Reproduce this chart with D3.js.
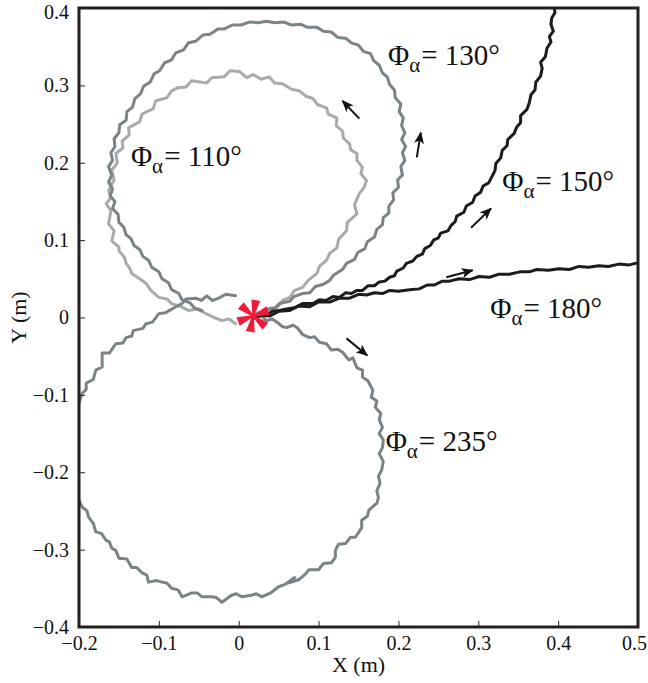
<!DOCTYPE html>
<html>
<head>
<meta charset="utf-8">
<script src="https://cdn.jsdelivr.net/npm/d3@7"></script>
<style>
  body { margin: 0; background: #fff; }
  svg text { font-family: "Liberation Serif", "Times New Roman", Times, "DejaVu Serif", serif; fill: #111; }
</style>
</head>
<body>
<svg id="chart"></svg>
<script>
// axis ticks
var xTicks = [-0.2, -0.1, 0, 0.1, 0.2, 0.3, 0.4, 0.5]
var yTicks = [-0.4, -0.3, -0.2, -0.1, 0, 0.1, 0.2, 0.3, 0.4]

// trajectories (x, y in m)
var path110 = [[0.014,0.000],[0.022,0.006],[0.030,0.005],[0.038,0.012],[0.048,0.013],[0.055,0.022],[0.064,0.026],[0.070,0.035],[0.080,0.039],[0.087,0.048],[0.098,0.057],[0.101,0.066],[0.110,0.074],[0.114,0.083],[0.123,0.090],[0.125,0.101],[0.135,0.112],[0.136,0.123],[0.148,0.134],[0.145,0.146],[0.151,0.160],[0.157,0.168],[0.160,0.177],[0.153,0.186],[0.155,0.194],[0.148,0.203],[0.148,0.212],[0.140,0.217],[0.139,0.224],[0.131,0.232],[0.130,0.241],[0.122,0.248],[0.123,0.258],[0.112,0.263],[0.110,0.271],[0.099,0.275],[0.093,0.283],[0.084,0.286],[0.076,0.293],[0.066,0.295],[0.055,0.302],[0.045,0.303],[0.038,0.311],[0.028,0.308],[0.018,0.314],[0.010,0.310],[0.001,0.318],[-0.011,0.319],[-0.018,0.311],[-0.034,0.310],[-0.040,0.303],[-0.059,0.306],[-0.066,0.298],[-0.076,0.297],[-0.084,0.293],[-0.090,0.284],[-0.104,0.280],[-0.107,0.270],[-0.121,0.263],[-0.124,0.253],[-0.138,0.245],[-0.137,0.236],[-0.146,0.228],[-0.145,0.219],[-0.154,0.212],[-0.152,0.200],[-0.159,0.190],[-0.156,0.178],[-0.163,0.164],[-0.160,0.155],[-0.166,0.147],[-0.160,0.138],[-0.163,0.121],[-0.156,0.112],[-0.159,0.099],[-0.150,0.091],[-0.150,0.086],[-0.143,0.078],[-0.141,0.070],[-0.136,0.063],[-0.134,0.057],[-0.124,0.050],[-0.116,0.044],[-0.110,0.035],[-0.100,0.026],[-0.090,0.024],[-0.084,0.018],[-0.072,0.014],[-0.063,0.009],[-0.052,0.011],[-0.041,0.005],[-0.031,0.000],[-0.021,-0.004],[-0.012,-0.002],[-0.004,-0.008]]

var path130 = [[0.016,0.001],[0.029,0.005],[0.034,0.010],[0.045,0.012],[0.051,0.018],[0.064,0.021],[0.069,0.027],[0.080,0.031],[0.089,0.032],[0.096,0.040],[0.106,0.043],[0.114,0.048],[0.119,0.055],[0.130,0.062],[0.135,0.070],[0.145,0.075],[0.149,0.084],[0.158,0.089],[0.161,0.098],[0.170,0.104],[0.173,0.114],[0.180,0.120],[0.181,0.129],[0.188,0.135],[0.188,0.144],[0.194,0.152],[0.193,0.161],[0.200,0.168],[0.199,0.178],[0.205,0.184],[0.203,0.195],[0.208,0.203],[0.205,0.213],[0.209,0.221],[0.204,0.230],[0.208,0.239],[0.204,0.248],[0.206,0.258],[0.201,0.266],[0.203,0.276],[0.196,0.284],[0.195,0.294],[0.189,0.301],[0.186,0.311],[0.180,0.316],[0.176,0.326],[0.169,0.332],[0.165,0.341],[0.156,0.344],[0.150,0.352],[0.141,0.355],[0.134,0.361],[0.124,0.362],[0.116,0.369],[0.106,0.370],[0.098,0.375],[0.086,0.375],[0.078,0.379],[0.066,0.378],[0.056,0.382],[0.045,0.381],[0.035,0.383],[0.024,0.381],[0.014,0.382],[0.003,0.378],[-0.008,0.378],[-0.018,0.373],[-0.026,0.373],[-0.036,0.366],[-0.045,0.365],[-0.054,0.357],[-0.063,0.355],[-0.069,0.346],[-0.079,0.342],[-0.084,0.333],[-0.093,0.329],[-0.099,0.319],[-0.106,0.315],[-0.111,0.304],[-0.119,0.299],[-0.123,0.289],[-0.130,0.283],[-0.133,0.272],[-0.140,0.266],[-0.141,0.255],[-0.149,0.249],[-0.150,0.239],[-0.156,0.231],[-0.155,0.221],[-0.160,0.213],[-0.158,0.203],[-0.163,0.195],[-0.159,0.184],[-0.163,0.175],[-0.158,0.166],[-0.161,0.157],[-0.155,0.150],[-0.158,0.141],[-0.151,0.133],[-0.150,0.123],[-0.144,0.117],[-0.141,0.107],[-0.135,0.102],[-0.131,0.093],[-0.124,0.088],[-0.120,0.079],[-0.113,0.074],[-0.109,0.065],[-0.100,0.059],[-0.096,0.050],[-0.088,0.045],[-0.084,0.036],[-0.075,0.031],[-0.071,0.023],[-0.061,0.019],[-0.055,0.012],[-0.046,0.009]]

var path150 = [[0.018,0.000],[0.026,0.004],[0.034,0.003],[0.042,0.008],[0.051,0.009],[0.060,0.011],[0.071,0.013],[0.080,0.018],[0.093,0.018],[0.101,0.023],[0.109,0.022],[0.118,0.027],[0.126,0.026],[0.134,0.032],[0.141,0.031],[0.148,0.035],[0.155,0.035],[0.162,0.041],[0.170,0.041],[0.176,0.046],[0.183,0.047],[0.189,0.052],[0.195,0.054],[0.198,0.060],[0.206,0.064],[0.210,0.070],[0.218,0.073],[0.223,0.079],[0.230,0.082],[0.233,0.089],[0.240,0.093],[0.244,0.100],[0.250,0.103],[0.253,0.109],[0.262,0.112],[0.266,0.119],[0.271,0.124],[0.273,0.131],[0.282,0.136],[0.285,0.144],[0.293,0.149],[0.296,0.157],[0.303,0.162],[0.306,0.170],[0.313,0.174],[0.318,0.184],[0.321,0.190],[0.322,0.199],[0.328,0.206],[0.330,0.216],[0.336,0.222],[0.337,0.230],[0.345,0.238],[0.348,0.246],[0.353,0.252],[0.353,0.261],[0.361,0.269],[0.364,0.278],[0.366,0.288],[0.371,0.294],[0.372,0.304],[0.378,0.312],[0.380,0.322],[0.378,0.330],[0.384,0.337],[0.386,0.348],[0.391,0.356],[0.389,0.363],[0.394,0.370],[0.391,0.379],[0.392,0.387],[0.396,0.394],[0.395,0.402],[0.397,0.410]]

var path180 = [[0.018,-0.001],[0.028,0.003],[0.039,0.002],[0.050,0.008],[0.064,0.009],[0.075,0.015],[0.089,0.014],[0.100,0.020],[0.114,0.020],[0.126,0.025],[0.139,0.025],[0.150,0.030],[0.160,0.029],[0.170,0.032],[0.180,0.031],[0.189,0.035],[0.200,0.034],[0.214,0.036],[0.226,0.037],[0.236,0.042],[0.245,0.042],[0.255,0.047],[0.264,0.047],[0.276,0.050],[0.289,0.049],[0.301,0.053],[0.314,0.052],[0.326,0.056],[0.339,0.056],[0.352,0.059],[0.364,0.059],[0.373,0.062],[0.388,0.061],[0.401,0.063],[0.414,0.062],[0.426,0.066],[0.438,0.065],[0.451,0.067],[0.463,0.066],[0.476,0.069],[0.489,0.068],[0.501,0.071]]

var path235 = [[0.020,-0.001],[0.028,0.002],[0.035,-0.004],[0.042,-0.002],[0.048,-0.006],[0.055,-0.012],[0.060,-0.013],[0.068,-0.010],[0.073,-0.013],[0.080,-0.022],[0.089,-0.026],[0.095,-0.025],[0.101,-0.032],[0.110,-0.034],[0.116,-0.042],[0.124,-0.041],[0.130,-0.045],[0.138,-0.055],[0.143,-0.052],[0.146,-0.060],[0.148,-0.065],[0.155,-0.068],[0.155,-0.077],[0.162,-0.082],[0.168,-0.094],[0.166,-0.103],[0.173,-0.108],[0.171,-0.116],[0.178,-0.124],[0.176,-0.132],[0.180,-0.142],[0.176,-0.150],[0.181,-0.158],[0.180,-0.168],[0.176,-0.176],[0.181,-0.186],[0.179,-0.197],[0.175,-0.205],[0.177,-0.214],[0.173,-0.224],[0.175,-0.233],[0.173,-0.240],[0.163,-0.249],[0.161,-0.257],[0.154,-0.262],[0.154,-0.272],[0.146,-0.284],[0.140,-0.284],[0.134,-0.292],[0.125,-0.293],[0.121,-0.301],[0.121,-0.310],[0.116,-0.317],[0.106,-0.318],[0.100,-0.326],[0.088,-0.326],[0.082,-0.333],[0.075,-0.339],[0.063,-0.343],[0.070,-0.336],[0.058,-0.345],[0.050,-0.348],[0.040,-0.356],[0.029,-0.361],[0.022,-0.357],[0.016,-0.359],[0.004,-0.361],[-0.003,-0.357],[-0.009,-0.359],[-0.021,-0.368],[-0.028,-0.362],[-0.034,-0.361],[-0.046,-0.361],[-0.052,-0.356],[-0.059,-0.356],[-0.066,-0.359],[-0.071,-0.361],[-0.076,-0.352],[-0.084,-0.350],[-0.090,-0.343],[-0.096,-0.342],[-0.103,-0.340],[-0.113,-0.342],[-0.115,-0.333],[-0.121,-0.330],[-0.128,-0.323],[-0.134,-0.323],[-0.140,-0.312],[-0.150,-0.311],[-0.154,-0.301],[-0.159,-0.298],[-0.162,-0.290],[-0.166,-0.288],[-0.172,-0.279],[-0.179,-0.277],[-0.182,-0.266],[-0.188,-0.258],[-0.190,-0.250],[-0.196,-0.245],[-0.200,-0.236],[-0.209,-0.197],[-0.214,-0.159],[-0.211,-0.133],[-0.200,-0.111],[-0.198,-0.104],[-0.196,-0.098],[-0.191,-0.093],[-0.191,-0.085],[-0.182,-0.080],[-0.179,-0.068],[-0.171,-0.064],[-0.171,-0.046],[-0.162,-0.046],[-0.154,-0.034],[-0.145,-0.033],[-0.141,-0.026],[-0.134,-0.024],[-0.132,-0.017],[-0.120,-0.014],[-0.116,-0.008],[-0.108,-0.006],[-0.100,0.005],[-0.092,0.006],[-0.082,0.012],[-0.071,0.018],[-0.066,0.024],[-0.054,0.025],[-0.047,0.022],[-0.040,0.028],[-0.033,0.022],[-0.025,0.025],[-0.016,0.030],[-0.004,0.028]]

var startPoint = [0.018, 0.002]

// direction arrows: from -> to
var arrowFrom = [[0.223,0.207],[0.151,0.257],[0.291,0.116],[0.260,0.052],[0.135,-0.027]]
var arrowTo   = [[0.228,0.239],[0.130,0.280],[0.316,0.141],[0.293,0.061],[0.161,-0.049]]

// labels: angle and anchor (x, y of baseline start)
var labelAngles = ["130", "110", "150", "180", "235"]
var labelPos = [[0.187,0.326],[-0.135,0.196],[0.330,0.164],[0.315,-0.001],[0.184,-0.172]]

var dimensions = {
  width: 648,
  height: 683,
  margin: { top: 8, bottom: 56, right: 10, left: 79 }
}

var serif = '"Liberation Serif", "Times New Roman", Times, "DejaVu Serif", serif'

var svg = d3.select("#chart")
  .attr("width", dimensions.width)
  .attr("height", dimensions.height)

var xScale = d3.scaleLinear()
  .domain([-0.2, 0.5])
  .range([dimensions.margin.left, dimensions.width - dimensions.margin.right])

var yScale = d3.scaleLinear()
  .domain([-0.4, 0.4])
  .range([dimensions.height - dimensions.margin.bottom, dimensions.margin.top])

var fmt = d => d === 0 ? "0" : d3.format(".1f")(d).replace("-", "\u2212")

svg.append("clipPath").attr("id", "plotclip")
  .append("rect")
  .attr("x", xScale(-0.2)).attr("y", yScale(0.4))
  .attr("width", xScale(0.5) - xScale(-0.2))
  .attr("height", yScale(-0.4) - yScale(0.4))

var lineGen = d3.line()
  .x(d => xScale(d[0]))
  .y(d => yScale(d[1]))

var series = [
  { data: path110, color: "#a8aaac" },
  { data: path130, color: "#7b8386" },
  { data: path235, color: "#7b8386" },
  { data: path150, color: "#1c1c1c" },
  { data: path180, color: "#1c1c1c" }
]

var plot = svg.append("g").attr("clip-path", "url(#plotclip)")

plot.selectAll("path.traj")
  .data(series)
  .enter()
  .append("path")
  .attr("class", "traj")
  .attr("d", d => lineGen(d.data))
  .attr("fill", "none")
  .attr("stroke", d => d.color)
  .attr("stroke-width", 3)
  .attr("stroke-linejoin", "round")
  .attr("stroke-linecap", "round")

// start marker: red asterisk made of wedges
var star = svg.append("g")
  .attr("transform", `translate(${xScale(startPoint[0])},${yScale(startPoint[1])})`)
d3.range(6).forEach(function (i) {
  var a = (-80 + i * 60) * Math.PI / 180
  var L = 16, w = 4.5
  var px = Math.cos(a), py = Math.sin(a)
  var nx = -py, ny = px
  star.append("path")
    .attr("d", `M${nx * 0.8},${ny * 0.8} L${px * L + nx * w},${py * L + ny * w} L${px * L - nx * w},${py * L - ny * w} L${-nx * 0.8},${-ny * 0.8}Z`)
    .attr("fill", "#ee1b3b")
})

// arrows
var defs = svg.append("defs")
defs.append("marker")
  .attr("id", "head")
  .attr("markerUnits", "userSpaceOnUse")
  .attr("viewBox", "0 0 12 10")
  .attr("refX", 11).attr("refY", 5)
  .attr("markerWidth", 12).attr("markerHeight", 10)
  .attr("orient", "auto")
  .append("path")
  .attr("d", "M0,0 L12,5 L0,10 L3,5 Z")
  .attr("fill", "#111")

svg.append("g")
  .selectAll("line")
  .data(d3.range(arrowFrom.length))
  .enter()
  .append("line")
  .attr("x1", i => xScale(arrowFrom[i][0]))
  .attr("y1", i => yScale(arrowFrom[i][1]))
  .attr("x2", i => xScale(arrowTo[i][0]))
  .attr("y2", i => yScale(arrowTo[i][1]))
  .attr("stroke", "#111")
  .attr("stroke-width", 2)
  .attr("marker-end", "url(#head)")

// labels
var lab = svg.append("g")
  .selectAll("text")
  .data(d3.range(labelAngles.length))
  .enter()
  .append("text")
  .attr("x", i => xScale(labelPos[i][0]))
  .attr("y", i => yScale(labelPos[i][1]))
  .style("font-family", serif)
  .style("font-size", "29px")
lab.append("tspan").text("\u03A6")
lab.append("tspan").style("font-size", "21px").attr("dy", 7).text("\u03B1")
lab.append("tspan").attr("dy", -7).attr("dx", 1).text(i => "= " + labelAngles[i] + "\u00B0")

// axes
var xAxisGen = d3.axisBottom(xScale)
  .tickValues(xTicks)
  .tickFormat(fmt)
  .tickSizeInner(-6).tickSizeOuter(0).tickPadding(9)

var xAxis = svg.append("g")
  .attr("transform", `translate(0,${yScale(-0.4)})`)
  .call(xAxisGen)

var yAxisGen = d3.axisLeft(yScale)
  .tickValues(yTicks)
  .tickFormat(fmt)
  .tickSizeInner(-6).tickSizeOuter(0).tickPadding(10)

var yAxis = svg.append("g")
  .attr("transform", `translate(${xScale(-0.2)},0)`)
  .call(yAxisGen)

svg.selectAll(".domain").remove()
svg.selectAll(".tick line").attr("stroke", "#222").attr("stroke-width", 1)
svg.selectAll(".tick text")
  .style("font-family", serif)
  .style("font-size", "20px")
  .attr("fill", "#111")

// keep the last x label and the top y label inside the page
xAxis.selectAll(".tick text").filter(d => d === 0.5).attr("dx", -4)
yAxis.selectAll(".tick text").filter(d => d === 0.4).attr("dy", "0.5em")

// frame
svg.append("rect")
  .attr("x", xScale(-0.2)).attr("y", yScale(0.4))
  .attr("width", xScale(0.5) - xScale(-0.2))
  .attr("height", yScale(-0.4) - yScale(0.4))
  .attr("fill", "none")
  .attr("stroke", "#231f20")
  .attr("stroke-width", 3)

svg.append("text")
  .attr("x", (xScale(-0.2) + xScale(0.5)) / 2)
  .attr("y", 672)
  .attr("text-anchor", "middle")
  .style("font-family", serif)
  .style("font-size", "22px")
  .text("X (m)")

svg.append("text")
  .attr("transform", `translate(26,${(yScale(-0.4) + yScale(0.4)) / 2}) rotate(-90)`)
  .attr("text-anchor", "middle")
  .style("font-family", serif)
  .style("font-size", "22px")
  .text("Y (m)")
</script>
</body>
</html>
